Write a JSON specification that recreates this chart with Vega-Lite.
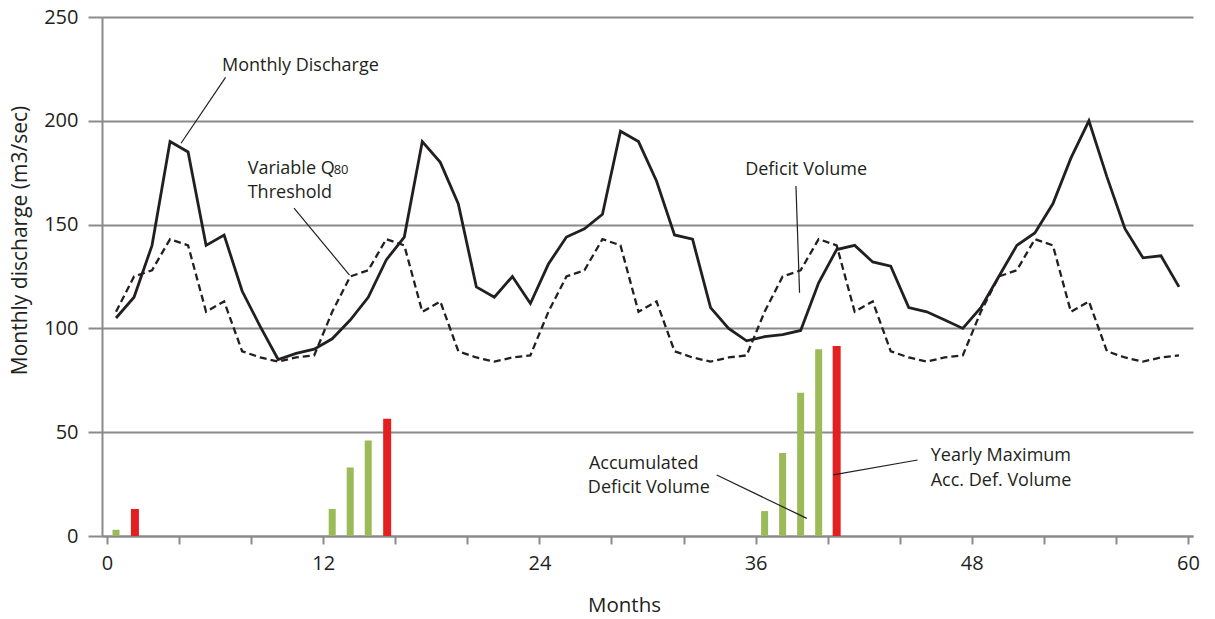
{
  "$schema": "https://vega.github.io/schema/vega-lite/v6.json",
  "width": 1091,
  "height": 519,
  "autosize": {"type": "none"},
  "padding": {"left": 102, "top": 17, "right": 22, "bottom": 83},
  "background": "white",
  "config": {
    "font": "Open Sans",
    "view": {"stroke": null},
    "axis": {"labelColor": "#231f20", "titleColor": "#231f20", "titleFontWeight": "normal", "labelFont": "Open Sans", "titleFont": "Open Sans"}
  },
  "datasets": {
    "series": [
      {"m": 0.5, "discharge": 105, "threshold": 108},
      {"m": 1.5, "discharge": 115, "threshold": 125},
      {"m": 2.5, "discharge": 140, "threshold": 128},
      {"m": 3.5, "discharge": 190, "threshold": 143},
      {"m": 4.5, "discharge": 185, "threshold": 140},
      {"m": 5.5, "discharge": 140, "threshold": 108},
      {"m": 6.5, "discharge": 145, "threshold": 113},
      {"m": 7.5, "discharge": 118, "threshold": 89},
      {"m": 8.5, "discharge": 101, "threshold": 86},
      {"m": 9.5, "discharge": 85, "threshold": 84},
      {"m": 10.5, "discharge": 88, "threshold": 86},
      {"m": 11.5, "discharge": 90, "threshold": 87},
      {"m": 12.5, "discharge": 95, "threshold": 108},
      {"m": 13.5, "discharge": 104, "threshold": 125},
      {"m": 14.5, "discharge": 115, "threshold": 128},
      {"m": 15.5, "discharge": 133, "threshold": 143},
      {"m": 16.5, "discharge": 144, "threshold": 140},
      {"m": 17.5, "discharge": 190, "threshold": 108},
      {"m": 18.5, "discharge": 180, "threshold": 113},
      {"m": 19.5, "discharge": 160, "threshold": 89},
      {"m": 20.5, "discharge": 120, "threshold": 86},
      {"m": 21.5, "discharge": 115, "threshold": 84},
      {"m": 22.5, "discharge": 125, "threshold": 86},
      {"m": 23.5, "discharge": 112, "threshold": 87},
      {"m": 24.5, "discharge": 131, "threshold": 108},
      {"m": 25.5, "discharge": 144, "threshold": 125},
      {"m": 26.5, "discharge": 148, "threshold": 128},
      {"m": 27.5, "discharge": 155, "threshold": 143},
      {"m": 28.5, "discharge": 195, "threshold": 140},
      {"m": 29.5, "discharge": 190, "threshold": 108},
      {"m": 30.5, "discharge": 171, "threshold": 113},
      {"m": 31.5, "discharge": 145, "threshold": 89},
      {"m": 32.5, "discharge": 143, "threshold": 86},
      {"m": 33.5, "discharge": 110, "threshold": 84},
      {"m": 34.5, "discharge": 100, "threshold": 86},
      {"m": 35.5, "discharge": 94, "threshold": 87},
      {"m": 36.5, "discharge": 96, "threshold": 108},
      {"m": 37.5, "discharge": 97, "threshold": 125},
      {"m": 38.5, "discharge": 99, "threshold": 128},
      {"m": 39.5, "discharge": 122, "threshold": 143},
      {"m": 40.5, "discharge": 138, "threshold": 140},
      {"m": 41.5, "discharge": 140, "threshold": 108},
      {"m": 42.5, "discharge": 132, "threshold": 113},
      {"m": 43.5, "discharge": 130, "threshold": 89},
      {"m": 44.5, "discharge": 110, "threshold": 86},
      {"m": 45.5, "discharge": 108, "threshold": 84},
      {"m": 46.5, "discharge": 104, "threshold": 86},
      {"m": 47.5, "discharge": 100, "threshold": 87},
      {"m": 48.5, "discharge": 110, "threshold": 108},
      {"m": 49.5, "discharge": 125, "threshold": 125},
      {"m": 50.5, "discharge": 140, "threshold": 128},
      {"m": 51.5, "discharge": 146, "threshold": 143},
      {"m": 52.5, "discharge": 160, "threshold": 140},
      {"m": 53.5, "discharge": 182, "threshold": 108},
      {"m": 54.5, "discharge": 200, "threshold": 113},
      {"m": 55.5, "discharge": 173, "threshold": 89},
      {"m": 56.5, "discharge": 148, "threshold": 86},
      {"m": 57.5, "discharge": 134, "threshold": 84},
      {"m": 58.5, "discharge": 135, "threshold": 86},
      {"m": 59.5, "discharge": 120, "threshold": 87}
    ],
    "acc": [
      {"m": 0.5, "v": 3},
      {"m": 12.5, "v": 13},
      {"m": 13.5, "v": 33},
      {"m": 14.5, "v": 46},
      {"m": 36.5, "v": 12},
      {"m": 37.5, "v": 40},
      {"m": 38.5, "v": 69},
      {"m": 39.5, "v": 90}
    ],
    "maxacc": [
      {"m": 1.55, "v": 13},
      {"m": 15.55, "v": 56.5},
      {"m": 40.5, "v": 91.5}
    ],
    "labels": [
      {"x": 6.38, "y": 224, "t": "Monthly Discharge"},
      {"x": 7.81, "y": 174.4, "t": "Variable Q"},
      {"x": 7.81, "y": 163.0, "t": "Threshold"},
      {"x": 35.42, "y": 174.0, "t": "Deficit Volume"},
      {"x": 26.75, "y": 32.1, "t": "Accumulated"},
      {"x": 26.69, "y": 20.6, "t": "Deficit Volume"},
      {"x": 45.72, "y": 36.3, "t": "Yearly Maximum"},
      {"x": 45.72, "y": 24.1, "t": "Acc. Def. Volume"}
    ],
    "sub": [
      {"x": 12.58, "y": 174.4, "t": "80"}
    ],
    "leaders": [
      {"x": 6.58, "y": 220.9, "x2": 4.11, "y2": 189.2},
      {"x": 10.38, "y": 157.9, "x2": 13.46, "y2": 125.7},
      {"x": 38.24, "y": 168.6, "x2": 38.44, "y2": 117.2},
      {"x": 33.84, "y": 29.4, "x2": 38.84, "y2": 8.5},
      {"x": 44.99, "y": 36.6, "x2": 40.31, "y2": 29.4}
    ]
  },
  "layer": [
    {
      "data": {"name": "series"},
      "mark": {"type": "line", "color": "#231f20", "strokeWidth": 2.8},
      "encoding": {
        "x": {
          "field": "m", "type": "quantitative",
          "scale": {"domain": [0, 60], "nice": false, "zero": false},
          "axis": {
            "values": [0, 2, 4, 6, 8, 10, 12, 14, 16, 18, 20, 22, 24, 26, 28, 30, 32, 34, 36, 38, 40, 42, 44, 46, 48, 50, 52, 54, 56, 58, 60],
            "labelExpr": "datum.value % 12 === 0 ? datum.label : ''",
            "grid": false,
            "domainColor": "#8a8a8a", "domainWidth": 2,
            "tickColor": "#8a8a8a", "tickWidth": 2, "tickSize": 8,
            "labelFontSize": 20, "labelPadding": 9, "labelFlush": false, "labelOverlap": false,
            "title": "Months", "titleFontSize": 20.5,
            "titleX": 522, "titleY": 69, "titleBaseline": "middle", "titleAlign": "center"
          }
        },
        "y": {
          "field": "discharge", "type": "quantitative",
          "scale": {"domain": [0, 250], "nice": false},
          "axis": {
            "values": [0, 50, 100, 150, 200, 250],
            "grid": true, "gridColor": "#8a8a8a", "gridWidth": 2,
            "domainColor": "#8a8a8a", "domainWidth": 2,
            "tickColor": "#8a8a8a", "tickWidth": 2, "tickSize": 14,
            "labelFontSize": 20, "labelPadding": 10,
            "title": "Monthly discharge (m3/sec)", "titleFontSize": 21,
            "titleAngle": -90, "titleX": -82, "titleY": 223, "titleAlign": "center", "titleBaseline": "middle"
          }
        }
      }
    },
    {
      "data": {"name": "series"},
      "mark": {"type": "line", "color": "#231f20", "strokeWidth": 2.3, "strokeDash": [7, 4]},
      "encoding": {
        "x": {"field": "m", "type": "quantitative"},
        "y": {"field": "threshold", "type": "quantitative"}
      }
    },
    {
      "data": {"name": "acc"},
      "mark": {"type": "bar", "color": "#9bbb59", "width": 7},
      "encoding": {
        "x": {"field": "m", "type": "quantitative"},
        "y": {"field": "v", "type": "quantitative"}
      }
    },
    {
      "data": {"name": "maxacc"},
      "mark": {"type": "bar", "color": "#e3201f", "width": 8},
      "encoding": {
        "x": {"field": "m", "type": "quantitative"},
        "y": {"field": "v", "type": "quantitative"}
      }
    },
    {
      "data": {"name": "leaders"},
      "mark": {"type": "rule", "color": "#231f20", "strokeWidth": 1.2},
      "encoding": {
        "x": {"field": "x", "type": "quantitative"},
        "y": {"field": "y", "type": "quantitative"},
        "x2": {"field": "x2"},
        "y2": {"field": "y2"}
      }
    },
    {
      "data": {"name": "labels"},
      "mark": {"type": "text", "align": "left", "baseline": "alphabetic", "fontSize": 18, "color": "#231f20", "font": "Open Sans"},
      "encoding": {
        "x": {"field": "x", "type": "quantitative"},
        "y": {"field": "y", "type": "quantitative"},
        "text": {"field": "t"}
      }
    },
    {
      "data": {"name": "sub"},
      "mark": {"type": "text", "align": "left", "baseline": "alphabetic", "fontSize": 13, "color": "#231f20", "font": "Open Sans"},
      "encoding": {
        "x": {"field": "x", "type": "quantitative"},
        "y": {"field": "y", "type": "quantitative"},
        "text": {"field": "t"}
      }
    }
  ]
}
